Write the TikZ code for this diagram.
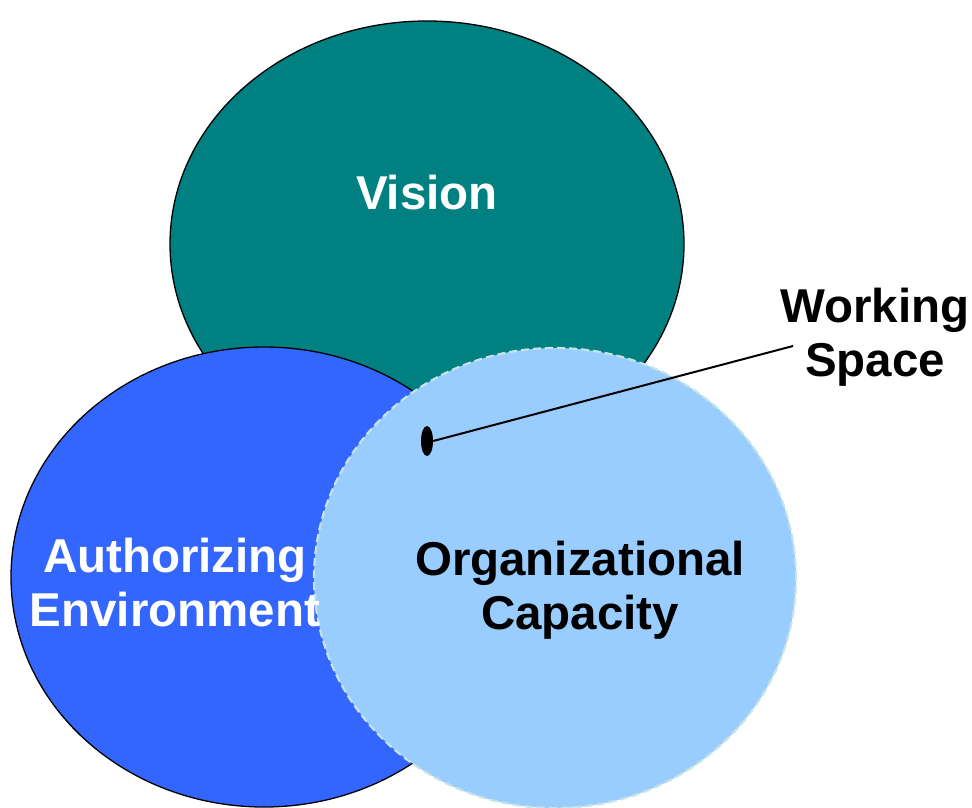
\documentclass[tikz,border=0pt]{standalone}
\usepackage{fontspec}
\setmainfont{Liberation Sans}
\usetikzlibrary{shapes.geometric}

\definecolor{visionteal}{HTML}{008080}
\definecolor{authblue}{HTML}{3366FF}
\definecolor{capblue}{HTML}{99CCFF}
\definecolor{capedge}{HTML}{C6E4E4}

\begin{document}
\begin{tikzpicture}[x=1pt, y=-1pt,
  circle/.style = {ellipse, draw=black, line width=1.3pt, inner sep=0pt},
  label/.style = {align=center, font=\fontsize{47.5}{54}\selectfont\bfseries},
  every node/.style = {anchor=center}]
  \useasboundingbox (0,0) rectangle (972,808);
  % the three circles
  \node[circle, fill=visionteal, minimum width=514pt, minimum height=446pt] (vision) at (427,244) {};
  \node[circle, fill=authblue, minimum width=506pt, minimum height=460pt] (authorizing) at (264,577) {};
  \node[circle, fill=capblue, draw=capedge, line width=2.2pt, dash pattern=on 8pt off 4pt, minimum width=482pt, minimum height=460pt] (capacity) at (555,578) {};
  % labels
  \node[label, text=white] (visiontext) at (427,193) {Vision};
  \node[label, text=white] (authtext) at (175,583) {Authorizing\\Environment};
  \node[label, text=black] (captext) at (580,590) {Organizational\\Capacity};
  \node[label, text=black] (working) at (875,337) {Working\\Space};
  % working space marker
  \node[ellipse, fill=black, minimum width=12pt, minimum height=30pt, inner sep=0pt] (spot) at (427,441) {};
  \coordinate (tip) at (793,346);
  \draw[line width=2pt] (spot.east) -- (tip);
\end{tikzpicture}
\end{document}
